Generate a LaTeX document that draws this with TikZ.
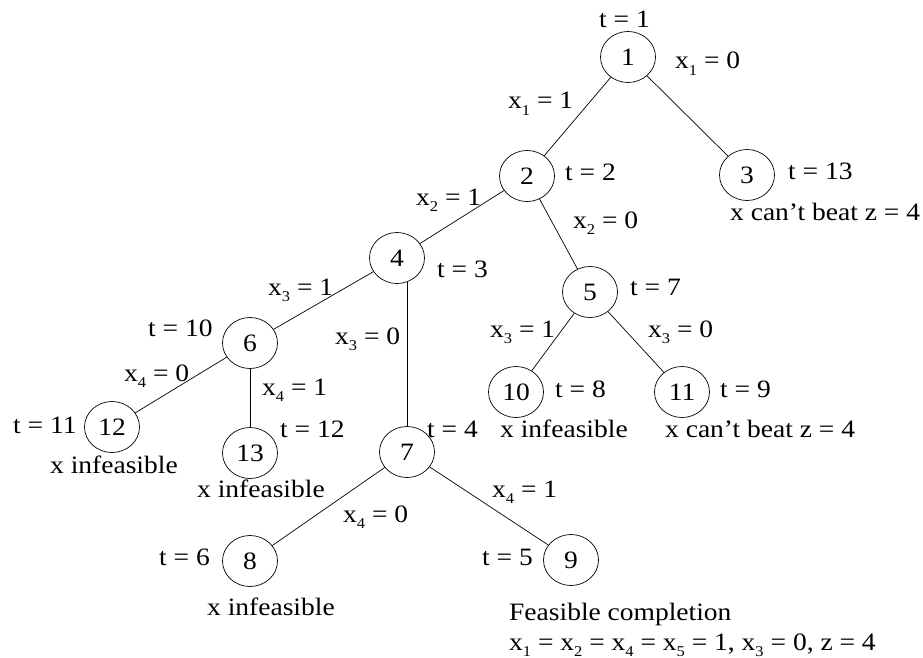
\documentclass[tikz,border=0pt]{standalone}
\usepackage{fontspec}
\setmainfont{Liberation Serif}[FakeStretch=1.1]
\usetikzlibrary{shapes.geometric}
\newcommand\xv[1]{x\raisebox{-0.26em}{\fontsize{15}{15}\selectfont #1}}
\tikzset{
  bnode/.style={ellipse, draw, line width=0.7pt, minimum width=55pt, minimum height=51pt, inner sep=0pt, font=\fontsize{25}{29}\selectfont},
  lbl/.style={anchor=base west, inner sep=0pt, font=\fontsize{25}{29}\selectfont},
  edge/.style={line width=0.7pt}
}
\begin{document}
\begin{tikzpicture}[x=1pt,y=-1pt]
\useasboundingbox[fill=white] (0,0) rectangle (923,658);
% nodes
\node[bnode] (n1) at (628,57) {1};
\node[bnode] (n2) at (527,176) {2};
\node[bnode] (n3) at (747,175) {3};
\node[bnode] (n4) at (397,258) {4};
\node[bnode] (n5) at (590,292) {5};
\node[bnode] (n6) at (250,343) {6};
\node[bnode] (n7) at (407,452) {7};
\node[bnode] (n8) at (250,561) {8};
\node[bnode] (n9) at (571,560) {9};
\node[bnode] (n10) at (516,392) {10};
\node[bnode] (n11) at (682,392) {11};
\node[bnode] (n12) at (112,427) {12};
\node[bnode] (n13) at (250,453) {13};
% edges
\draw[edge] (n1) -- (n2);
\draw[edge] (n1) -- (n3);
\draw[edge] (n2) -- (n4);
\draw[edge] (n2) -- (n5);
\draw[edge] (n4) -- (n6);
\draw[edge] (n7.north) -- (n7.north |- n4.-68);
\draw[edge] (n5) -- (n10);
\draw[edge] (n5) -- (n11);
\draw[edge] (n6) -- (n12);
\draw[edge] (n6) -- (n13);
\draw[edge] (n7) -- (n8);
\draw[edge] (n7) -- (n9);
% labels
\node[lbl] (l1) at (599,28) {t = 1};
\node[lbl] (l2) at (675,69) {\xv{1} = 0};
\node[lbl] (l3) at (508,109) {\xv{1} = 1};
\node[lbl] (l4) at (565,180) {t = 2};
\node[lbl] (l5) at (788,179) {t = 13};
\node[lbl] (l6) at (730,220) {x can’t beat z = 4};
\node[lbl] (l7) at (416,205) {\xv{2} = 1};
\node[lbl] (l8) at (573,228) {\xv{2} = 0};
\node[lbl] (l9) at (437,277) {t = 3};
\node[lbl] (l10) at (630,295) {t = 7};
\node[lbl] (l11) at (268,295) {\xv{3} = 1};
\node[lbl] (l12) at (335,344) {\xv{3} = 0};
\node[lbl] (l13) at (490,337) {\xv{3} = 1};
\node[lbl] (l14) at (648,337) {\xv{3} = 0};
\node[lbl] (l15) at (148,336) {t = 10};
\node[lbl] (l16) at (124,381) {\xv{4} = 0};
\node[lbl] (l17) at (262,395) {\xv{4} = 1};
\node[lbl] (l18) at (13,433) {t = 11};
\node[lbl] (l19) at (280,437) {t = 12};
\node[lbl] (l20) at (50,473) {x infeasible};
\node[lbl] (l21) at (197,497) {x infeasible};
\node[lbl] (l22) at (427,437) {t = 4};
\node[lbl] (l23) at (555,397) {t = 8};
\node[lbl] (l24) at (720,397) {t = 9};
\node[lbl] (l25) at (500,437) {x infeasible};
\node[lbl] (l26) at (665,437) {x can’t beat z = 4};
\node[lbl] (l27) at (343,522) {\xv{4} = 0};
\node[lbl] (l28) at (492,497) {\xv{4} = 1};
\node[lbl] (l29) at (159,565) {t = 6};
\node[lbl] (l30) at (482,565) {t = 5};
\node[lbl] (l31) at (207,615) {x infeasible};
\node[lbl] (l32) at (509,620) {Feasible completion};
\node[lbl] (l33) at (509,650) {\xv{1} = \xv{2} = \xv{4} = \xv{5} = 1, \xv{3} = 0, z = 4};
\end{tikzpicture}
\end{document}
